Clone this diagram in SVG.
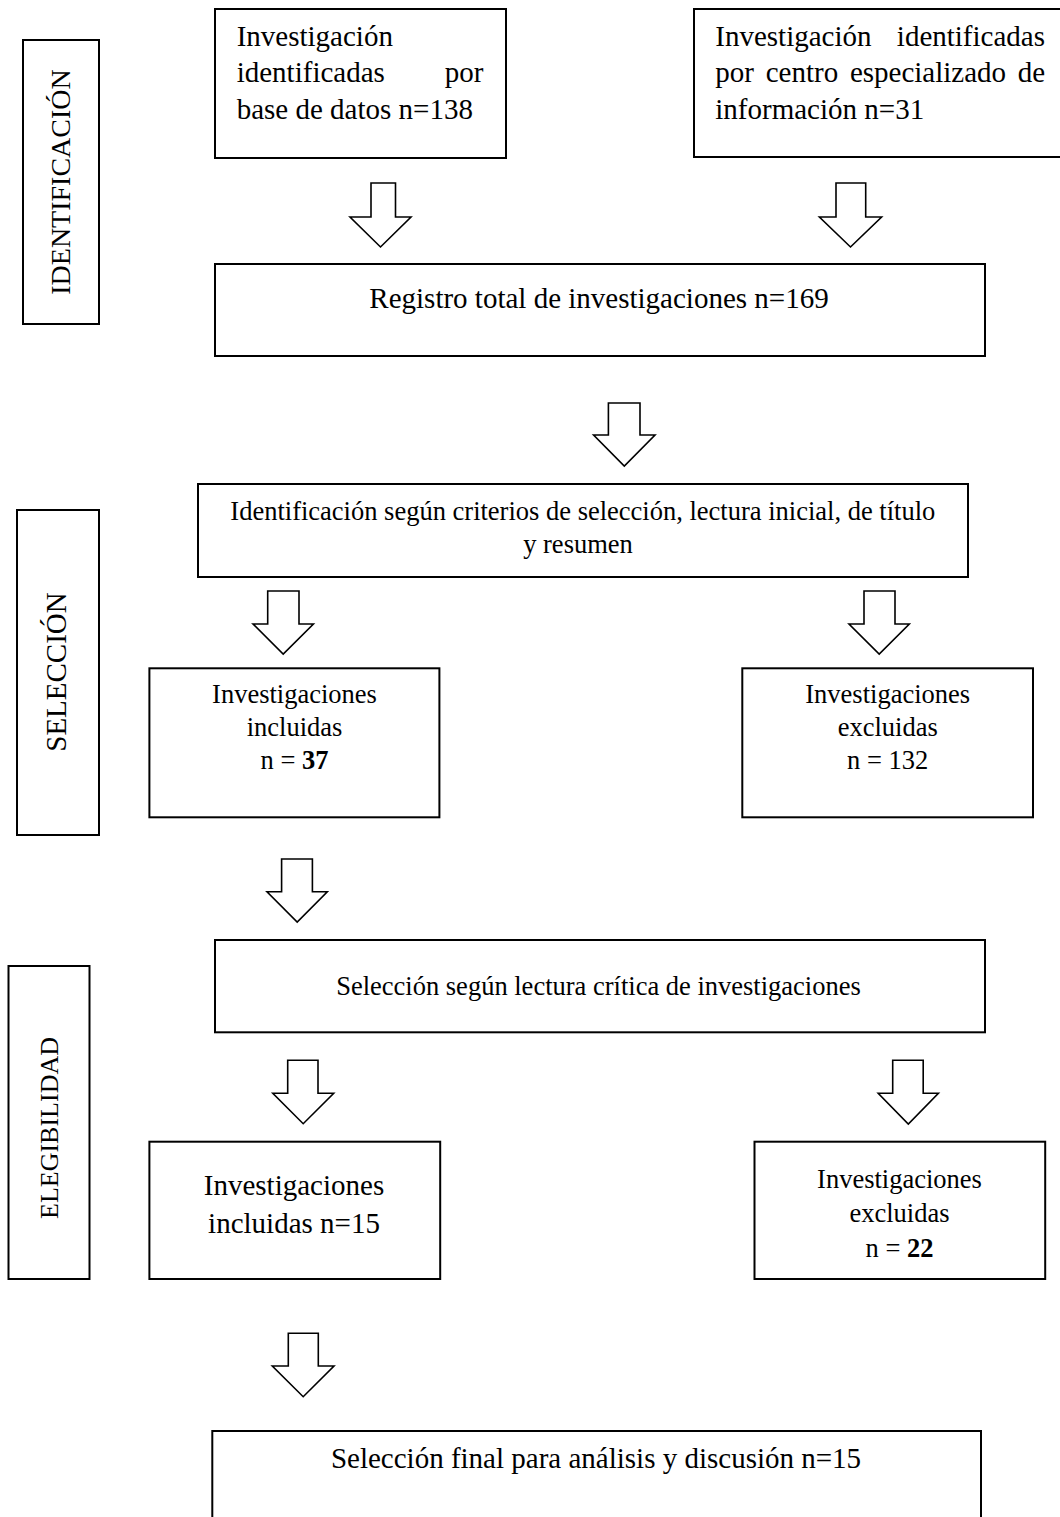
<svg xmlns="http://www.w3.org/2000/svg" width="1060" height="1517" viewBox="0 0 1060 1517">
<style>
.box{fill:#fff;stroke:#000;stroke-width:2}
.arrow{fill:#fff;stroke:#000;stroke-width:1.6;stroke-linejoin:miter}
text{font-family:"Liberation Serif","Times New Roman",serif;fill:#000}
.f29{font-size:29px}
.f265{font-size:26.5px}
.f28{font-size:28px}
.f26{font-size:26px}
.c{text-anchor:middle}
.e{text-anchor:end}
.b{font-weight:bold}
</style>
<rect width="1060" height="1517" fill="#fff"/>
<g id="label-identificacion">
<rect class="box" x="23" y="40" width="76" height="284"/>
<text class="f28 c" transform="translate(69.5,182) rotate(-90)">IDENTIFICACIÓN</text>
</g>
<g id="label-seleccion">
<rect class="box" x="17" y="510" width="82" height="325"/>
<text class="f29 c" transform="translate(66,672) rotate(-90)">SELECCIÓN</text>
</g>
<g id="label-elegibilidad">
<rect class="box" x="8.5" y="966" width="81" height="313"/>
<text class="f26 c" transform="translate(58,1128) rotate(-90)">ELEGIBILIDAD</text>
</g>
<g id="node-base-datos">
<rect class="box" x="215" y="9" width="291" height="149"/>
<text class="f29" x="236.7" y="46">Investigación</text>
<text class="f29" x="236.7" y="82">identificadas</text>
<text class="f29 e" x="483.4" y="82">por</text>
<text class="f29" x="236.7" y="119">base de datos n=138</text>
</g>
<g id="node-centro">
<rect class="box" x="694" y="9" width="370" height="148"/>
<text class="f29" x="715.3" y="46">Investigación</text>
<text class="f29 e" x="1045" y="46">identificadas</text>
<text class="f29" x="715.3" y="82">por</text>
<text class="f29" x="765.7" y="82">centro</text>
<text class="f29" x="849.9" y="82">especializado</text>
<text class="f29 e" x="1045" y="82">de</text>
<text class="f29" x="715.3" y="119">información n=31</text>
</g>
<g id="node-registro">
<rect class="box" x="215" y="264" width="770" height="92"/>
<text class="f29 c" x="599" y="308">Registro total de investigaciones n=169</text>
</g>
<g id="node-identificacion">
<rect class="box" x="198" y="484" width="770" height="93"/>
<text class="f265 c" x="582.8" y="520">Identificación según criterios de selección, lectura inicial, de título</text>
<text class="f265 c" x="578" y="553">y resumen</text>
</g>
<g id="node-incluidas-37">
<rect class="box" x="149.4" y="668.3" width="290" height="149"/>
<text class="f265 c" x="294.5" y="702.7">Investigaciones</text>
<text class="f265 c" x="294.5" y="736">incluidas</text>
<text class="f265 c" x="294.5" y="769.3">n = <tspan class="b">37</tspan></text>
</g>
<g id="node-excluidas-132">
<rect class="box" x="742.3" y="668.3" width="290.7" height="149"/>
<text class="f265 c" x="887.7" y="702.7">Investigaciones</text>
<text class="f265 c" x="887.7" y="736">excluidas</text>
<text class="f265 c" x="887.7" y="769.3">n = 132</text>
</g>
<g id="node-lectura-critica">
<rect class="box" x="215" y="940" width="770" height="92.3"/>
<text class="f265 c" x="598.5" y="995">Selección según lectura crítica de investigaciones</text>
</g>
<g id="node-incluidas-15">
<rect class="box" x="149.4" y="1141.7" width="290.8" height="137.3"/>
<text class="f29 c" x="294" y="1195">Investigaciones</text>
<text class="f29 c" x="294" y="1233.3">incluidas n=15</text>
</g>
<g id="node-excluidas-22">
<rect class="box" x="754.5" y="1141.7" width="290.7" height="137.3"/>
<text class="f265 c" x="899.5" y="1188.3">Investigaciones</text>
<text class="f265 c" x="899.5" y="1222">excluidas</text>
<text class="f265 c" x="899.5" y="1256.5">n = <tspan class="b">22</tspan></text>
</g>
<g id="node-final">
<rect class="box" x="212.3" y="1431" width="768.7" height="110"/>
<text class="f29 c" x="596" y="1468">Selección final para análisis y discusión n=15</text>
</g>
<g id="connectors">
<path class="arrow" d="M371,183 H395.5 V217 H411 L380.5,247 L350,217 H371 Z"/>
<path class="arrow" d="M836,183 H865.7 V217 H881.6 L850.5,247 L819.4,217 H836 Z"/>
<path class="arrow" d="M608.4,403 H640 V435 H655 L624.3,466 L593.6,435 H608.4 Z"/>
<path class="arrow" d="M267.7,591 H299 V624 H313.4 L283.2,654 L253,624 H267.7 Z"/>
<path class="arrow" d="M864,591 H895 V624 H909.3 L879.2,654 L849,624 H864 Z"/>
<path class="arrow" d="M281.6,859 H312.4 V891.7 H327.3 L297.2,922 L267,891.7 H281.6 Z"/>
<path class="arrow" d="M287.7,1060.3 H318 V1093.3 H333.7 L303.2,1123.7 L272.8,1093.3 H287.7 Z"/>
<path class="arrow" d="M892.7,1060.3 H923.2 V1093.3 H938.4 L908.3,1124 L878.2,1093.3 H892.7 Z"/>
<path class="arrow" d="M288.3,1333.3 H318.3 V1366 H334 L303.2,1396.7 L272.3,1366 H288.3 Z"/>
</g>
</svg>
